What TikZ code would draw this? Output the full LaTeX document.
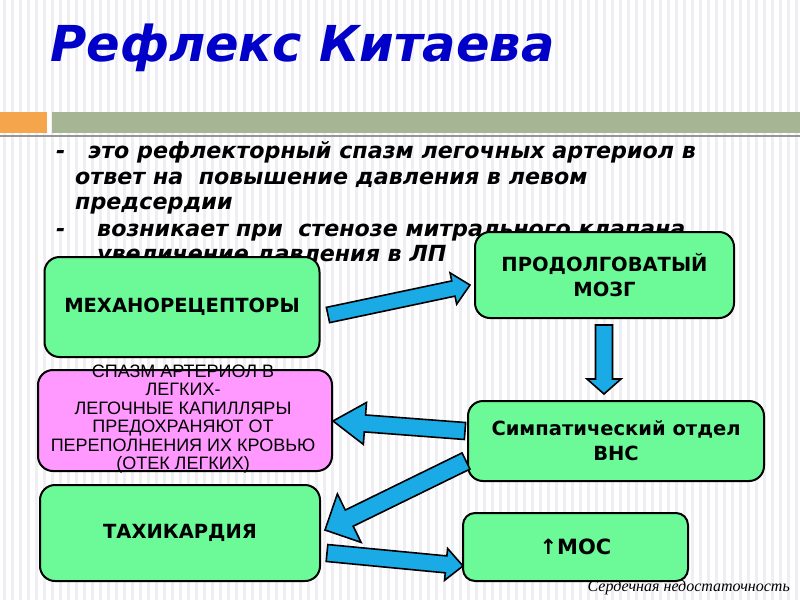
\documentclass[tikz,border=0pt]{standalone}
\usepackage{fontspec}
\setmainfont{DejaVu Sans}
\newfontfamily\verdf{DejaVu Sans}
\newfontfamily\arialf{Liberation Sans}
\newfontfamily\serff{Liberation Serif}
\usetikzlibrary{calc}
\definecolor{boxgreen}{RGB}{108,250,152}
\definecolor{boxpink}{RGB}{255,153,255}
\definecolor{arrblue}{RGB}{26,170,230}
\definecolor{titleblue}{RGB}{0,0,200}
\definecolor{barorange}{RGB}{245,165,75}
\definecolor{bargreen}{RGB}{166,182,148}
\definecolor{barline}{RGB}{150,150,150}
\definecolor{stripecol}{RGB}{238,238,243}
\newcommand\blockarrow[5]{%
  \draw[barrow] let \p1=(#1), \p2=(#2), \n1={atan2(\y2-\y1,\x2-\x1)}, \n2={veclen(\x2-\x1,\y2-\y1)} in
    [shift={(\p1)}, rotate=\n1]
    (0,#3) -- ({\n2-#5},#3) -- ({\n2-#5},#4) -- (\n2,0) -- ({\n2-#5},-#4) -- ({\n2-#5},-#3) -- (0,-#3) -- cycle;
}
\tikzset{
  gbox/.style={draw=black, line width=2pt, fill=boxgreen, rounded corners=15pt, inner sep=0pt,
    font=\verdf\bfseries\fontsize{19.5}{25}\selectfont, align=center},
  pbox/.style={draw=black, line width=2pt, fill=boxpink, rounded corners=15pt, inner sep=0pt},
  ptext/.style={font=\arialf\fontsize{18}{18.4}\selectfont, align=center, inner sep=0pt},
  barrow/.style={draw=black, line width=1.6pt, fill=arrblue, line join=miter},
  bodytext/.style={font=\verdf\bfseries\itshape\fontsize{22.2}{25}\selectfont, anchor=base west, inner sep=0pt},
}
\begin{document}
\begin{tikzpicture}[x=1pt,y=-1pt]
\useasboundingbox (0,0) rectangle (800,600);
\fill[white] (0,0) rectangle (800,600);
\foreach \i in {0,...,100} \fill[stripecol] (\i*8+3,0) rectangle ++(2.5,600);
% title
\node[anchor=base west, inner sep=0pt, text=titleblue, font=\verdf\bfseries\itshape\fontsize{49.5}{55}\selectfont] (title) at (50,61) {Рефлекс Китаева};
% bars
\fill[barorange] (0,112) rectangle (47,133);
\fill[bargreen] (52,112) rectangle (800,133);
\fill[barline] (0,134.5) rectangle (800,137);
% body text
\node[bodytext] (d1) at (56,158) {-};
\node[bodytext] (l1) at (88,158) {это рефлекторный спазм легочных артериол в};
\node[bodytext] (l2) at (75,184) {ответ на\ \ повышение давления в левом};
\node[bodytext] (l3) at (75,209.5) {предсердии};
\node[bodytext] (d2) at (56,236) {-};
\node[bodytext] (l4) at (97,236) {возникает при\ \ стенозе митрального клапана};
\node[bodytext] (l5) at (97,261) {увеличение давления в ЛП};
% boxes
\node[gbox, minimum width=275pt, minimum height=100pt] (mech) at (182,307) {МЕХАНОРЕЦЕПТОРЫ};
\node[gbox, minimum width=259pt, minimum height=86pt] (brain) at (604.5,275) {ПРОДОЛГОВАТЫЙ\\МОЗГ};
\node[pbox, minimum width=294pt, minimum height=101pt] (spasm) at (185,420.5) {};
\node[ptext] (spasmtext) at (183,419) {СПАЗМ АРТЕРИОЛ В\\ЛЕГКИХ-\\ЛЕГОЧНЫЕ КАПИЛЛЯРЫ\\ПРЕДОХРАНЯЮТ ОТ\\ПЕРЕПОЛНЕНИЯ ИХ КРОВЬЮ\\(ОТЕК ЛЕГКИХ)};
\node[gbox, minimum width=296pt, minimum height=80pt] (symp) at (616,441) {Симпатический отдел\\ВНС};
\node[gbox, minimum width=280pt, minimum height=96pt] (tachy) at (180,533) {ТАХИКАРДИЯ};
\node[gbox, minimum width=225pt, minimum height=68pt, rounded corners=12pt, font=\verdf\bfseries\fontsize{21}{25}\selectfont] (mos) at (575.5,547) {↑МОС};
% arrow ends
\coordinate (a1s) at (328,315);
\coordinate (a1e) at (470,285);
\coordinate (a2s) at (604,325);
\coordinate (a2e) at (604,394);
\coordinate (a3s) at (465,431);
\coordinate (a3e) at (333,421);
\coordinate (a4s) at (466,461);
\coordinate (a4e) at (325,530);
\coordinate (a5s) at (327,553);
\coordinate (a5e) at (463,566);
\blockarrow{a1s}{a1e}{7.8}{16}{17}
\blockarrow{a2s}{a2e}{8.5}{17}{15}
\blockarrow{a3s}{a3e}{8.5}{21}{32}
\blockarrow{a4s}{a4e}{9}{27}{27}
\blockarrow{a5s}{a5e}{8.5}{16}{17}
% footer
\node[anchor=base east, inner sep=0pt, font=\serff\itshape\fontsize{16}{18}\selectfont] (footer) at (790,591) {Сердечная недостаточность};
\end{tikzpicture}
\end{document}
